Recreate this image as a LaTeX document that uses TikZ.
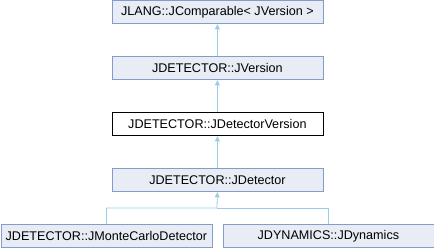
\documentclass[tikz,border=0pt]{standalone}
\usepackage{fontspec}
\setmainfont{Liberation Sans}
\usetikzlibrary{arrows.meta}
\definecolor{boxfill}{RGB}{232,236,245}
\definecolor{boxdraw}{RGB}{132,155,204}
\definecolor{arrowc}{RGB}{154,204,230}
\begin{document}
\begin{tikzpicture}[x=1pt,y=-1pt,
  cls/.style={draw=boxdraw,fill=boxfill,line width=0.8pt,minimum height=23pt,minimum width=211pt,inner sep=0pt,font=\fontsize{12.6}{14}\selectfont,anchor=north west},
  cur/.style={cls,draw=black,fill=white},
  inh/.style={draw=arrowc,line width=0.8pt,{Triangle[length=5pt,width=5pt,fill=arrowc]}-}]
\useasboundingbox (0,0) rectangle (434,248);
\node[cls] (a) at (111.5,0.5) {JLANG::JComparable<\ JVersion\ >};
\node[cls] (b) at (111.5,56.5) {JDETECTOR::JVersion};
\node[cur] (c) at (111.5,112.5) {JDETECTOR::JDetectorVersion};
\node[cls] (d) at (111.5,168.5) {JDETECTOR::JDetector};
\node[cls] (e) at (0.5,224.5) {JDETECTOR::JMonteCarloDetector};
\node[cls] (f) at (222.5,224.5) {JDYNAMICS::JDynamics};
\coordinate (j) at (217,208);
\draw[inh] (a.south) -- (b.north);
\draw[inh] (b.south) -- (c.north);
\draw[inh] (c.south) -- (d.north);
\draw[inh] (d.south) -- (j) -| (e.north);
\draw[draw=arrowc,line width=0.8pt] (j) -| (f.north);
\end{tikzpicture}
\end{document}
